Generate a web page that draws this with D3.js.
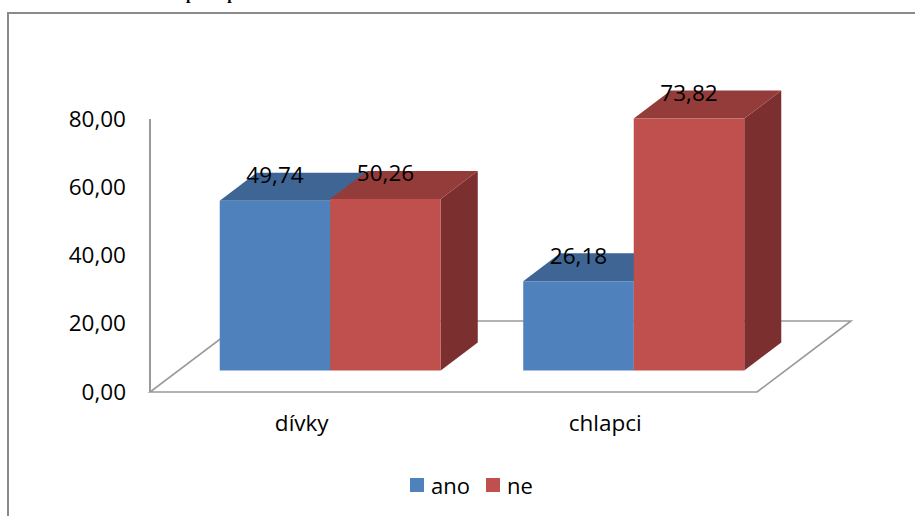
<!DOCTYPE html>
<html>
<head>
<meta charset="utf-8">
<script src="https://cdn.jsdelivr.net/npm/d3@7"></script>
<style>
  html, body { margin: 0; padding: 0; background: #fff; }
  svg { display: block; }
  text { font-family: "Open Sans", "Noto Sans", sans-serif; fill: #000; }
</style>
</head>
<body>
<svg id="chart" width="915" height="516"></svg>
<script>
// Data
const categories = ["dívky", "chlapci"];
const seriesNames = ["ano", "ne"];
const anoValues = [49.74, 26.18];
const neValues = [50.26, 73.82];
const yTicks = [0, 20, 40, 60, 80];
const captionText = "Kouření rodičů podle pohlaví";

const seriesValues = [anoValues, neValues];
const frontColors = ["#4F81BD", "#C0504D"];
const topColors = ["#3E6594", "#943C3A"];
const sideColors = ["#34557D", "#7B2F2E"];

const svg = d3.select("#chart");
const fontSize = "22.5px";

// Czech number format: 2 decimals, comma separator
const cz = d3.formatLocale({ decimal: ",", thousands: " ", grouping: [3], currency: ["", " Kč"] });
const fmt = cz.format(".2f");

// Caption above the chart frame (runs off the top of the page)
const cap = svg.append("text")
  .attr("y", -1)
  .style("font-family", "'Liberation Serif', 'Times New Roman', serif")
  .style("font-weight", "bold")
  .style("font-size", "16px")
  .text(captionText);
const pIndex = captionText.indexOf("p");
const pOffset = cap.node().getSubStringLength(0, pIndex);
cap.attr("x", 186 - pOffset);

// Chart frame
svg.append("rect")
  .attr("x", 8).attr("y", 13)
  .attr("width", 1000).attr("height", 700)
  .attr("fill", "none")
  .attr("stroke", "#8a8a8a")
  .attr("stroke-width", 2);

// Plot geometry (front plane of floor and depth offsets)
const floorY = 392;
const x0 = 150, x1 = 757;
const depthX = 94, depthY = 71;
const zFront = 0.303, zBack = 0.697;

const yScale = d3.scaleLinear().domain([0, 80]).range([floorY, floorY - 273]);
const xBand = d3.scaleBand().domain(categories).range([x0, x1]);
const groupW = 221;
const xInner = d3.scaleBand().domain(seriesNames).range([0, groupW]);

// project (front-plane x, value, depth fraction) to screen
function proj(x, v, z) {
  return [x + z * depthX, yScale(v) - z * depthY];
}

// Floor outline
const floorPts = [
  proj(x0, 0, 0), proj(x1, 0, 0), proj(x1, 0, 1), proj(x0, 0, 1)
];
svg.append("path")
  .attr("d", d3.line()(floorPts) + "Z")
  .attr("fill", "none")
  .attr("stroke", "#9a9a9a")
  .attr("stroke-width", 1.6);

// Vertical axis line
svg.append("line")
  .attr("x1", x0).attr("x2", x0)
  .attr("y1", yScale(0)).attr("y2", yScale(80))
  .attr("stroke", "#9a9a9a")
  .attr("stroke-width", 2);

// Value axis labels
const yAxis = d3.axisLeft(yScale)
  .tickValues(yTicks)
  .tickFormat(fmt)
  .tickSize(0)
  .tickPadding(24);
const yG = svg.append("g").attr("transform", `translate(${x0},0)`).call(yAxis);
yG.select(".domain").remove();
yG.selectAll("text")
  .style("font-family", "'Open Sans', sans-serif")
  .style("font-size", fontSize)
  .attr("fill", "#000");

// Category labels
const xAxis = d3.axisBottom(xBand).tickSize(0).tickPadding(0);
const xG = svg.append("g").attr("transform", `translate(0,${floorY + 23})`).call(xAxis);
xG.select(".domain").remove();
xG.selectAll("text")
  .style("font-family", "'Open Sans', sans-serif")
  .style("font-size", fontSize)
  .attr("fill", "#000");

// Bars (drawn left to right so later faces overlap earlier side faces)
const bars = svg.append("g");
const labels = [];
categories.forEach((cat, ci) => {
  const gx = xBand(cat) + (xBand.bandwidth() - groupW) / 2;
  seriesNames.forEach((s, si) => {
    const v = seriesValues[si][ci];
    const bl = gx + xInner(s);
    const br = bl + xInner.bandwidth();
    const A = proj(bl, 0, zFront), B = proj(br, 0, zFront);
    const C = proj(br, v, zFront), D = proj(bl, v, zFront);
    const Bb = proj(br, 0, zBack), Cb = proj(br, v, zBack), Db = proj(bl, v, zBack);
    const line = d3.line();
    // side face
    bars.append("path").attr("d", line([B, Bb, Cb, C]) + "Z").attr("fill", sideColors[si]);
    // top face
    bars.append("path").attr("d", line([D, C, Cb, Db]) + "Z").attr("fill", topColors[si]);
    // front face
    bars.append("path").attr("d", line([A, B, C, D]) + "Z").attr("fill", frontColors[si]);
    labels.push({ x: (A[0] + B[0]) / 2, y: D[1] - 26, v });
  });
});

// Value labels
svg.append("g").selectAll("text").data(labels).join("text")
  .attr("x", d => d.x)
  .attr("y", d => d.y)
  .attr("text-anchor", "middle")
  .attr("dominant-baseline", "central")
  .style("font-size", fontSize)
  .text(d => fmt(d.v));

// Legend
const legend = svg.append("g");
const legendX = [410, 486];
seriesNames.forEach((s, i) => {
  legend.append("rect")
    .attr("x", legendX[i]).attr("y", 478)
    .attr("width", 14).attr("height", 14)
    .attr("fill", frontColors[i]);
  legend.append("text")
    .attr("x", legendX[i] + 21).attr("y", 485)
    .attr("dominant-baseline", "central")
    .style("font-size", "22px")
    .text(s);
});
</script>
</body>
</html>
